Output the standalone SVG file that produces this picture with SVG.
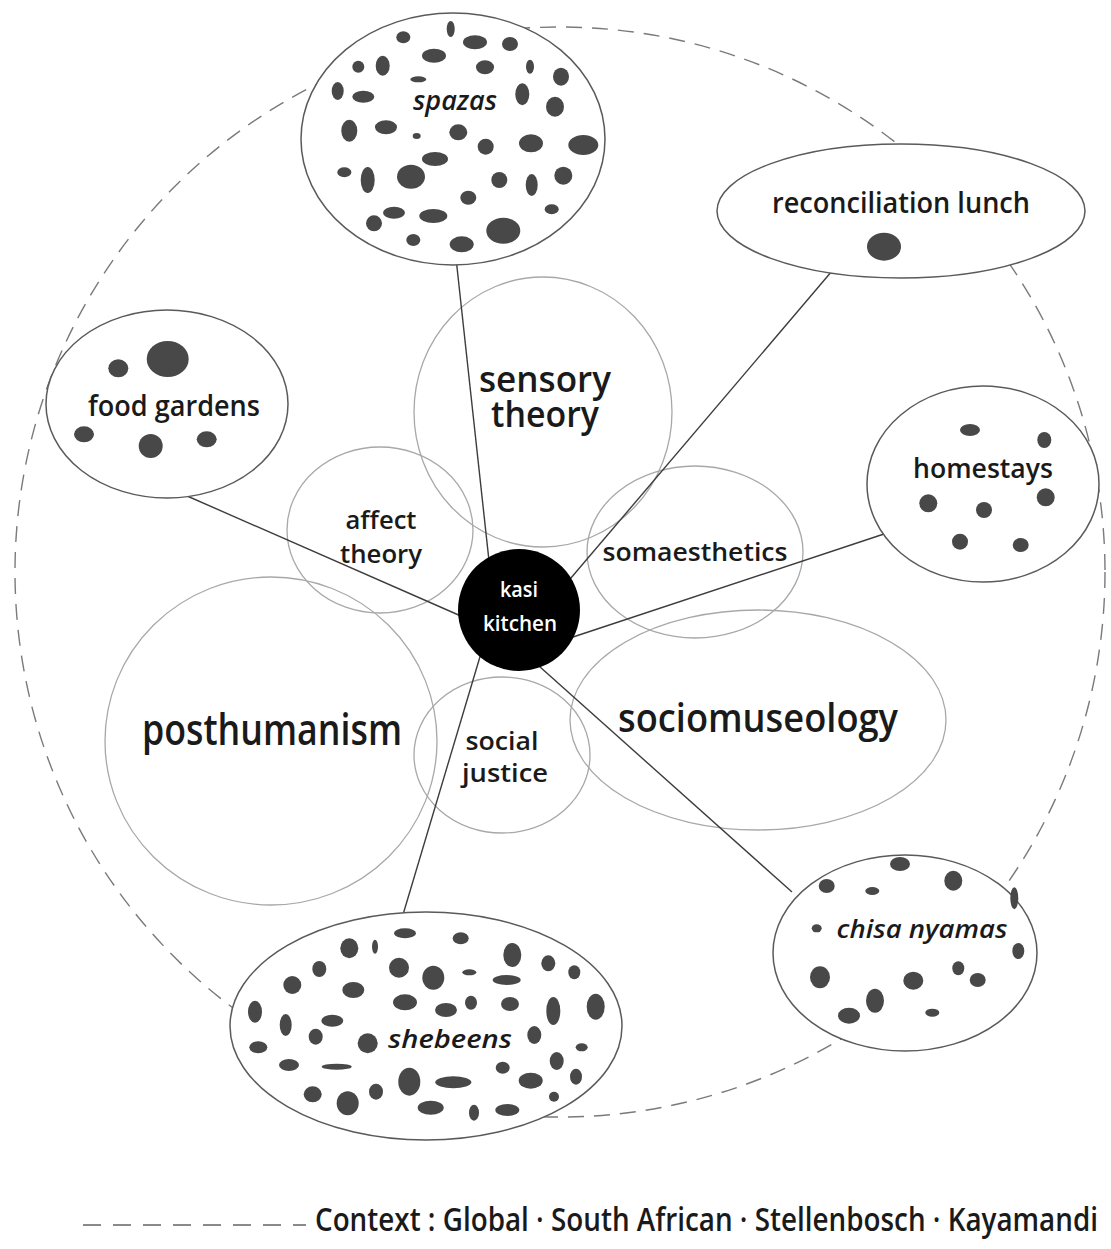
<svg xmlns="http://www.w3.org/2000/svg" width="1111" height="1249" viewBox="0 0 1111 1249">
<style>
text{font-family:"Open Sans","Noto Sans",sans-serif;font-weight:600;fill:#1a1a1a;text-anchor:middle}
.it{font-style:italic}
.theory{fill:none;stroke:#a8a8a8;stroke-width:1.3}
.node{fill:#fff;stroke:#5a5a5a;stroke-width:1.5}
.dot{fill:#484848}
.link{stroke:#3c3c3c;stroke-width:1.4;fill:none}
.ctx{fill:none;stroke:#7a7a7a;stroke-width:1.4;stroke-dasharray:16 10}
</style>
<rect width="1111" height="1249" fill="#fff"/>
<ellipse id="context" class="ctx" cx="560" cy="572" rx="545" ry="545"/>

<g id="theories">
  <g id="sensory-theory"><ellipse class="theory" cx="543" cy="412" rx="129" ry="135"/>
    <text x="545" y="392" font-size="36" textLength="132" lengthAdjust="spacingAndGlyphs">sensory</text>
    <text x="545" y="427" font-size="36" textLength="108" lengthAdjust="spacingAndGlyphs">theory</text></g>
  <g id="affect-theory"><ellipse class="theory" cx="380" cy="530" rx="93" ry="83"/>
    <text x="381" y="529" font-size="26" textLength="71" lengthAdjust="spacingAndGlyphs">affect</text>
    <text x="381" y="563" font-size="26" textLength="82" lengthAdjust="spacingAndGlyphs">theory</text></g>
  <g id="somaesthetics"><ellipse class="theory" cx="695" cy="552" rx="108" ry="86"/>
    <text x="695" y="561" font-size="25" textLength="185" lengthAdjust="spacingAndGlyphs">somaesthetics</text></g>
  <g id="sociomuseology"><ellipse class="theory" cx="758" cy="720" rx="188" ry="110"/>
    <text x="758" y="732" font-size="40" textLength="280" lengthAdjust="spacingAndGlyphs">sociomuseology</text></g>
  <g id="posthumanism"><ellipse class="theory" cx="271" cy="741" rx="166" ry="164"/>
    <text x="272" y="745" font-size="44" textLength="260" lengthAdjust="spacingAndGlyphs">posthumanism</text></g>
  <g id="social-justice"><ellipse class="theory" cx="502" cy="755" rx="88" ry="78"/>
    <text x="502" y="750" font-size="25" textLength="73" lengthAdjust="spacingAndGlyphs">social</text>
    <text x="505" y="782" font-size="25" textLength="86" lengthAdjust="spacingAndGlyphs">justice</text></g>
</g>

<g id="connectors">
  <line class="link" x1="456" y1="258" x2="490" y2="570"/>
  <line class="link" x1="832" y1="271" x2="565" y2="585"/>
  <line class="link" x1="178" y1="492" x2="470" y2="620"/>
  <line class="link" x1="890" y1="532" x2="570" y2="638"/>
  <line class="link" x1="792" y1="892" x2="530" y2="658"/>
  <line class="link" x1="402" y1="918" x2="482" y2="650"/>
</g>

<g id="spazas">
  <ellipse class="node" cx="453" cy="139" rx="152" ry="126"/>
  <ellipse class="dot" cx="450.7" cy="29" rx="4" ry="8"/>
  <ellipse class="dot" cx="403.3" cy="37.3" rx="7" ry="6"/>
  <ellipse class="dot" cx="475" cy="42.3" rx="12" ry="7"/>
  <ellipse class="dot" cx="510" cy="44" rx="8" ry="7"/>
  <ellipse class="dot" cx="434" cy="55.7" rx="12" ry="7"/>
  <ellipse class="dot" cx="358.3" cy="66.7" rx="6" ry="6"/>
  <ellipse class="dot" cx="382.7" cy="65.7" rx="7" ry="10"/>
  <ellipse class="dot" cx="485" cy="67.3" rx="9" ry="7"/>
  <ellipse class="dot" cx="530" cy="66.7" rx="4" ry="7"/>
  <ellipse class="dot" cx="561" cy="76.7" rx="8" ry="9"/>
  <ellipse class="dot" cx="418.3" cy="79.3" rx="8" ry="3"/>
  <ellipse class="dot" cx="337.7" cy="91" rx="6" ry="9"/>
  <ellipse class="dot" cx="363.3" cy="96.7" rx="11" ry="6"/>
  <ellipse class="dot" cx="522.3" cy="94.3" rx="7" ry="11"/>
  <ellipse class="dot" cx="555" cy="106.7" rx="9" ry="10"/>
  <ellipse class="dot" cx="349.3" cy="130.7" rx="8" ry="11"/>
  <ellipse class="dot" cx="386" cy="127.3" rx="11" ry="7"/>
  <ellipse class="dot" cx="416.7" cy="136" rx="4" ry="3"/>
  <ellipse class="dot" cx="458.3" cy="132.3" rx="9" ry="8"/>
  <ellipse class="dot" cx="485.7" cy="146.7" rx="8" ry="8"/>
  <ellipse class="dot" cx="531" cy="143.3" rx="12" ry="9"/>
  <ellipse class="dot" cx="583.3" cy="145" rx="15" ry="10"/>
  <ellipse class="dot" cx="435" cy="159" rx="13" ry="7"/>
  <ellipse class="dot" cx="344.3" cy="172.3" rx="7" ry="5"/>
  <ellipse class="dot" cx="367.7" cy="180" rx="7" ry="13"/>
  <ellipse class="dot" cx="411" cy="176.7" rx="14" ry="12"/>
  <ellipse class="dot" cx="499.3" cy="180" rx="8" ry="8"/>
  <ellipse class="dot" cx="531.7" cy="185" rx="6" ry="11"/>
  <ellipse class="dot" cx="563.3" cy="175.7" rx="9" ry="9"/>
  <ellipse class="dot" cx="468.3" cy="197.7" rx="8" ry="7"/>
  <ellipse class="dot" cx="551.7" cy="209.3" rx="7" ry="5"/>
  <ellipse class="dot" cx="394" cy="212.7" rx="11" ry="6"/>
  <ellipse class="dot" cx="374" cy="223.3" rx="8" ry="8"/>
  <ellipse class="dot" cx="433.3" cy="216" rx="14" ry="7"/>
  <ellipse class="dot" cx="503.3" cy="230.7" rx="17" ry="13"/>
  <ellipse class="dot" cx="413.3" cy="240" rx="7" ry="6"/>
  <ellipse class="dot" cx="461.7" cy="244.3" rx="12" ry="8"/>
  <text class="it" x="455" y="110" font-size="27" textLength="84" lengthAdjust="spacingAndGlyphs">spazas</text>
</g>

<g id="reconciliation-lunch">
  <ellipse class="node" cx="901" cy="211" rx="184" ry="67"/>
  <ellipse class="dot" cx="884" cy="246.7" rx="17" ry="14"/>
  <text x="901" y="213" font-size="28" textLength="258" lengthAdjust="spacingAndGlyphs">reconciliation lunch</text>
</g>

<g id="food-gardens">
  <ellipse class="node" cx="167" cy="404" rx="121" ry="94"/>
  <ellipse class="dot" cx="167.7" cy="359" rx="21" ry="18"/>
  <ellipse class="dot" cx="118.3" cy="368.3" rx="10" ry="9"/>
  <ellipse class="dot" cx="84" cy="434.3" rx="10" ry="8"/>
  <ellipse class="dot" cx="150.7" cy="446" rx="12" ry="12"/>
  <ellipse class="dot" cx="206.7" cy="439.3" rx="10" ry="8"/>
  <text x="174" y="416" font-size="29" textLength="172" lengthAdjust="spacingAndGlyphs">food gardens</text>
</g>

<g id="homestays">
  <ellipse class="node" cx="983" cy="484" rx="116" ry="98"/>
  <ellipse class="dot" cx="970" cy="430" rx="10" ry="6"/>
  <ellipse class="dot" cx="1044.3" cy="440" rx="7" ry="8"/>
  <ellipse class="dot" cx="928.3" cy="503.3" rx="9" ry="9"/>
  <ellipse class="dot" cx="984" cy="510" rx="8" ry="8"/>
  <ellipse class="dot" cx="1045.7" cy="497.3" rx="9" ry="9"/>
  <ellipse class="dot" cx="960" cy="541.7" rx="8" ry="8"/>
  <ellipse class="dot" cx="1020.7" cy="545" rx="8" ry="7"/>
  <text x="983" y="478" font-size="27" textLength="140" lengthAdjust="spacingAndGlyphs">homestays</text>
</g>

<g id="chisa-nyamas">
  <ellipse class="node" cx="905" cy="953" rx="132" ry="98"/>
  <ellipse class="dot" cx="900" cy="864" rx="10" ry="7"/>
  <ellipse class="dot" cx="953.3" cy="880.7" rx="9" ry="10"/>
  <ellipse class="dot" cx="826.7" cy="886" rx="8" ry="7"/>
  <ellipse class="dot" cx="872.3" cy="891" rx="7" ry="4"/>
  <ellipse class="dot" cx="1014.3" cy="898.3" rx="4" ry="11"/>
  <ellipse class="dot" cx="816.7" cy="928.3" rx="5" ry="4"/>
  <ellipse class="dot" cx="1018.3" cy="951" rx="6" ry="8"/>
  <ellipse class="dot" cx="820" cy="977.3" rx="10" ry="11"/>
  <ellipse class="dot" cx="958.3" cy="968.3" rx="6" ry="7"/>
  <ellipse class="dot" cx="913.3" cy="980.7" rx="10" ry="9"/>
  <ellipse class="dot" cx="977.7" cy="980" rx="8" ry="7"/>
  <ellipse class="dot" cx="875" cy="1000.7" rx="9" ry="12"/>
  <ellipse class="dot" cx="849" cy="1015.7" rx="11" ry="8"/>
  <ellipse class="dot" cx="932.3" cy="1012.7" rx="7" ry="4"/>
  <text class="it" x="922" y="938" font-size="26" textLength="171" lengthAdjust="spacingAndGlyphs">chisa nyamas</text>
</g>

<g id="shebeens">
  <ellipse class="node" cx="426" cy="1026" rx="196" ry="114"/>
  <ellipse class="dot" cx="405" cy="933.3" rx="11" ry="5"/>
  <ellipse class="dot" cx="460.7" cy="938.3" rx="8" ry="6"/>
  <ellipse class="dot" cx="349.3" cy="948.3" rx="9" ry="10"/>
  <ellipse class="dot" cx="375" cy="946.7" rx="3" ry="7"/>
  <ellipse class="dot" cx="512.3" cy="955" rx="9" ry="12"/>
  <ellipse class="dot" cx="319.3" cy="969" rx="7" ry="8"/>
  <ellipse class="dot" cx="399" cy="967.7" rx="10" ry="10"/>
  <ellipse class="dot" cx="433.3" cy="977.7" rx="11" ry="12"/>
  <ellipse class="dot" cx="469.3" cy="972.3" rx="7" ry="3"/>
  <ellipse class="dot" cx="548.3" cy="963.3" rx="7" ry="8"/>
  <ellipse class="dot" cx="574.3" cy="972.3" rx="6" ry="7"/>
  <ellipse class="dot" cx="506.7" cy="980" rx="14" ry="5"/>
  <ellipse class="dot" cx="292.3" cy="985" rx="9" ry="9"/>
  <ellipse class="dot" cx="353.3" cy="990" rx="11" ry="8"/>
  <ellipse class="dot" cx="405" cy="1002.3" rx="12" ry="8"/>
  <ellipse class="dot" cx="446" cy="1010" rx="11" ry="7"/>
  <ellipse class="dot" cx="471" cy="1002.7" rx="6" ry="7"/>
  <ellipse class="dot" cx="510" cy="1004" rx="9" ry="7"/>
  <ellipse class="dot" cx="255" cy="1011.7" rx="7" ry="11"/>
  <ellipse class="dot" cx="285.7" cy="1025" rx="6" ry="11"/>
  <ellipse class="dot" cx="332.3" cy="1020.7" rx="11" ry="6"/>
  <ellipse class="dot" cx="553.3" cy="1011" rx="7" ry="14"/>
  <ellipse class="dot" cx="595.7" cy="1006.7" rx="9" ry="13"/>
  <ellipse class="dot" cx="315.7" cy="1036.7" rx="7" ry="8"/>
  <ellipse class="dot" cx="367.7" cy="1043.3" rx="10" ry="10"/>
  <ellipse class="dot" cx="534.3" cy="1035" rx="7" ry="9"/>
  <ellipse class="dot" cx="258.3" cy="1047.3" rx="9" ry="6"/>
  <ellipse class="dot" cx="581.7" cy="1047.3" rx="6" ry="4"/>
  <ellipse class="dot" cx="289" cy="1065" rx="10" ry="6"/>
  <ellipse class="dot" cx="336.7" cy="1066.7" rx="15" ry="3"/>
  <ellipse class="dot" cx="556.7" cy="1061" rx="7" ry="9"/>
  <ellipse class="dot" cx="409.3" cy="1081.7" rx="11" ry="14"/>
  <ellipse class="dot" cx="453.3" cy="1082.3" rx="18" ry="6"/>
  <ellipse class="dot" cx="502.7" cy="1067.7" rx="7" ry="6"/>
  <ellipse class="dot" cx="530.7" cy="1080.7" rx="12" ry="8"/>
  <ellipse class="dot" cx="576" cy="1076.7" rx="6" ry="8"/>
  <ellipse class="dot" cx="312.7" cy="1094.3" rx="9" ry="8"/>
  <ellipse class="dot" cx="347.7" cy="1103.3" rx="11" ry="12"/>
  <ellipse class="dot" cx="376" cy="1091.7" rx="7" ry="8"/>
  <ellipse class="dot" cx="430.7" cy="1107.7" rx="13" ry="7"/>
  <ellipse class="dot" cx="474" cy="1112.7" rx="5" ry="8"/>
  <ellipse class="dot" cx="507.3" cy="1110" rx="12" ry="6"/>
  <ellipse class="dot" cx="554" cy="1096.7" rx="5" ry="5"/>
  <text class="it" x="450" y="1048" font-size="26" textLength="124" lengthAdjust="spacingAndGlyphs">shebeens</text>
</g>

<g id="kasi-kitchen">
  <circle cx="519" cy="610" r="61" fill="#000"/>
  <text x="519" y="597" font-size="21" style="fill:#fff" textLength="38" lengthAdjust="spacingAndGlyphs">kasi</text>
  <text x="520" y="631" font-size="21" style="fill:#fff" textLength="74" lengthAdjust="spacingAndGlyphs">kitchen</text>
</g>

<g id="legend">
  <line x1="83" y1="1225" x2="306" y2="1225" stroke="#8a8a8a" stroke-width="2" stroke-dasharray="18 12"/>
  <text x="315" y="1231" font-size="32" style="text-anchor:start" textLength="783" lengthAdjust="spacingAndGlyphs">Context : Global · South African · Stellenbosch · Kayamandi</text>
</g>
</svg>
